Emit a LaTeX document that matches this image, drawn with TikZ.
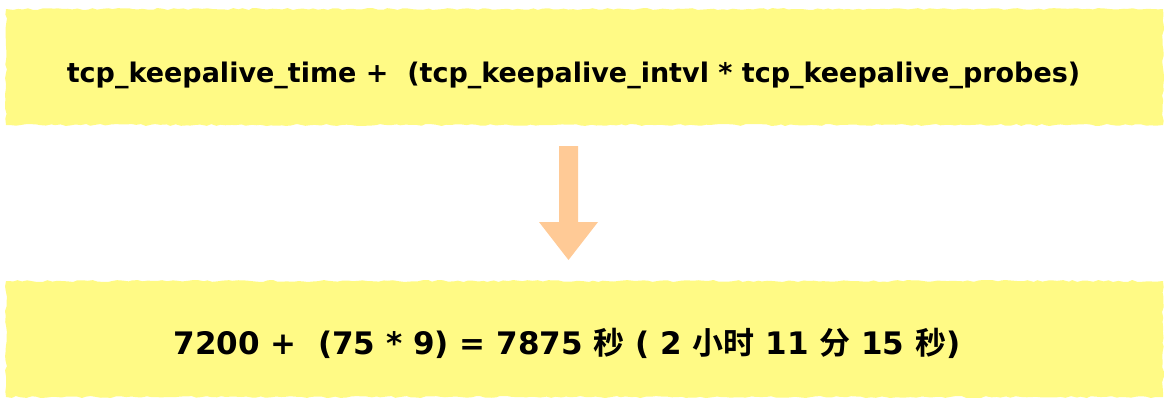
\documentclass[tikz,border=0pt]{standalone}
\usepackage{fontspec}
\setmainfont{DejaVu Sans}
\newfontfamily\cjk{Noto Sans CJK SC}[BoldFont={* Bold}]
\usetikzlibrary{decorations.pathmorphing}
\definecolor{note}{HTML}{FFFA85}
\definecolor{arrowc}{HTML}{FFCA96}
\tikzset{
  notebox/.style={fill=note, decorate, decoration={random steps, segment length=5pt, amplitude=1pt}},
  label/.style={text=black, inner sep=0pt}
}
\begin{document}
\begin{tikzpicture}[x=1pt,y=-1pt]
\useasboundingbox (0,0) rectangle (1172,402);
\fill[notebox] (6,9) rectangle (1163,125);
\fill[notebox] (6,281) rectangle (1163,397);
\node[label, font=\fontsize{27}{32}\selectfont\bfseries] (top) at (573.5,75) {tcp\_keepalive\_time +\ \ (tcp\_keepalive\_intvl * tcp\_keepalive\_probes)};
\node[label, font=\fontsize{31}{36}\selectfont\bfseries] (bot) at (567,343) {7200 +\ \ (75 * 9) = 7875 {\cjk 秒} ( 2 {\cjk 小时} 11 {\cjk 分} 15 {\cjk 秒})};
\fill[arrowc] (559,146) -- (578,146) -- (578,222) -- (598,222) -- (568.5,260) -- (539,222) -- (559,222) -- cycle;
\end{tikzpicture}
\end{document}
